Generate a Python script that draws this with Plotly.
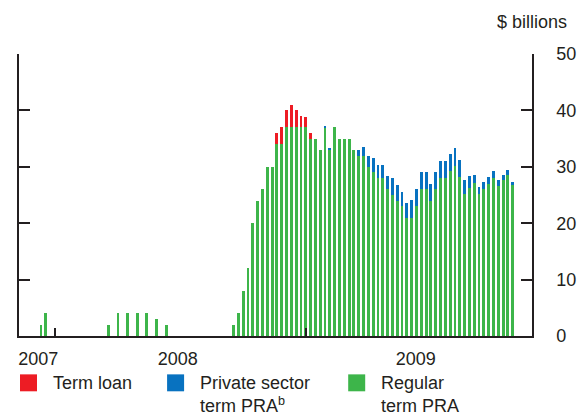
import pandas as pd
import plotly.graph_objects as go

# Weekly operations, first week 2007-12-12
first_week = "2007-12-12"
n_weeks = 99

regular_term_pra = [
    2, 4, 0, 0, 0, 0, 0, 0, 0, 0, 0, 0, 0, 0,
    2, 0, 4, 0, 4, 0, 4, 0, 4, 0, 3, 0, 2,
    0, 0, 0, 0, 0, 0, 0, 0, 0, 0, 0, 0, 0,
    2, 4, 8, 12, 20, 24, 26, 30, 30, 34, 34, 37, 37, 37, 37, 37, 35, 35, 33, 37,
    33, 37, 35, 35, 35, 33, 32, 32, 30, 29, 28, 28, 26, 25, 24, 23, 21, 21, 23, 26,
    26, 24, 26, 28, 28, 29.2, 30.2, 28.2, 25.2, 26.2, 27.2, 25.2, 26, 27, 28, 26.6,
    27.6, 28.6, 26.7,
]
term_loan = [0] * 49 + [2, 3, 3, 4, 3, 2, 1.8, 1] + [0] * 42
private_sector_term_pra = (
    [0] * 59 + [0.3, 0.3] + [0] * 5 +
    [1, 1.5, 2, 2.5, 2.3, 2.3, 2.4, 3, 2.8, 2.5, 2.6, 3.1, 3, 3.1, 3.1, 3, 3.1,
     3.1, 3.1, 3.1, 3.1, 3, 2.5, 2.2, 1.4, 1.3, 1.3, 1.2, 1.2, 1, 1, 0.8, 0.6]
)

year_labels = ["2007", "2008", "2009"]
year_label_dates = ["2007-12-08", "2008-06-28", "2009-06-09"]
year_boundaries = ["2008-01-01", "2009-01-01"]

weeks = pd.date_range(first_week, periods=n_weeks, freq="7D")

GREEN = "#3DB54A"
RED = "#ED1C24"
BLUE = "#0872C0"
INK = "#231F20"
FONT = "Liberation Sans, Arial, sans-serif"
FS = 18

bar_width_ms = 0.6 * 7 * 24 * 3600 * 1000

fig = go.Figure()
for name, vals, col in [
    ("Regular term PRA", regular_term_pra, GREEN),
    ("Term loan", term_loan, RED),
    ("Private sector term PRA", private_sector_term_pra, BLUE),
]:
    fig.add_trace(go.Bar(x=weeks, y=vals, name=name, marker_color=col,
                         marker_line_width=0, width=bar_width_ms,
                         showlegend=False))

W, H = 577, 417
L, R, T, B = 19, 531.7, 53.5, 336.5


def px(xp):
    return (xp - L) / (R - L)


def py(yp):
    return (B - yp) / (B - T)


fig.update_layout(
    width=W, height=H,
    margin=dict(l=L, r=W - R, t=T, b=H - B, pad=0, autoexpand=False),
    paper_bgcolor="white", plot_bgcolor="white",
    barmode="stack",
    font=dict(family=FONT, size=FS, color=INK),
    xaxis=dict(
        type="date", automargin=False,
        range=["2007-11-10", "2009-11-25"],
        tickmode="array", tickvals=year_label_dates, ticktext=year_labels,
        ticks="", showgrid=False, zeroline=False,
        showline=True, linecolor=INK, linewidth=2,
        ticklabelstandoff=5,
        minor=dict(tickmode="array", tickvals=year_boundaries, ticks="inside",
                   ticklen=8, tickwidth=2, tickcolor=INK, showgrid=False),
    ),
    yaxis=dict(
        range=[0, 50], dtick=10, side="right", automargin=False,
        ticks="inside", ticklen=11, tickwidth=2, tickcolor=INK,
        showline=True, linecolor=INK, linewidth=1.5, mirror="ticks",
        showgrid=False, zeroline=False,
        ticklabelstandoff=19,
    ),
    showlegend=False,
)

fig.add_annotation(text="$ billions", xref="paper", yref="paper",
                   x=px(569), y=py(21), xanchor="right", yanchor="middle",
                   showarrow=False, font=dict(size=FS, color=INK))

legend_items = [
    (RED, 20, "Term loan"),
    (BLUE, 167, "Private sector<br>term PRA<sup>b</sup>"),
    (GREEN, 348, "Regular<br>term PRA"),
]
for col, x0, label in legend_items:
    fig.add_shape(type="rect", xref="paper", yref="paper",
                  x0=px(x0), x1=px(x0 + 17), y0=py(392), y1=py(375),
                  fillcolor=col, line_width=0)
    fig.add_annotation(text=label, xref="paper", yref="paper",
                       x=px(x0 + 31), y=py(372), xanchor="left", yanchor="top",
                       align="left", showarrow=False,
                       font=dict(size=FS, color=INK))

fig.write_html(
    "out.html",
    config={"displayModeBar": False},
    post_script="document.body.style.margin='0px';"
                "document.body.style.overflow='hidden';",
)
